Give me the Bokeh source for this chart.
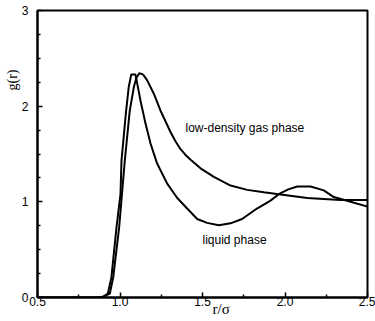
from bokeh.plotting import figure
from bokeh.models import FixedTicker, Label, Range1d, PrintfTickFormatter, Title
from bokeh.embed import file_html
from bokeh.resources import INLINE

# Liquid phase g(r)
liquid_r = [0.50, 0.85, 0.87, 0.90, 0.926, 0.948, 0.979, 1.003, 1.009, 1.037, 1.053, 1.068,
            1.094, 1.124, 1.155, 1.185, 1.225, 1.286, 1.347, 1.407, 1.468, 1.528, 1.599,
            1.67, 1.74, 1.83, 1.91, 1.962, 2.02, 2.074, 2.155, 2.235, 2.296, 2.397, 2.50]
liquid_g = [0.0, 0.0, 0.0, 0.01, 0.04, 0.21, 0.735, 1.08, 1.43, 1.95, 2.2, 2.33,
            2.33, 2.06, 1.815, 1.61, 1.40, 1.19, 1.04, 0.93, 0.82, 0.78, 0.755,
            0.775, 0.82, 0.93, 1.01, 1.08, 1.13, 1.16, 1.16, 1.12, 1.05, 1.00, 0.95]

# Low-density gas phase g(r)
gas_r = [0.50, 0.86, 0.89, 0.938, 0.959, 0.995, 1.029, 1.059, 1.084, 1.10, 1.118, 1.14,
         1.165, 1.205, 1.245, 1.306, 1.337, 1.367, 1.397, 1.428, 1.488, 1.569, 1.67, 1.771,
         1.872, 1.962, 2.135, 2.336, 2.50]
gas_g = [0.0, 0.0, 0.0, 0.04, 0.21, 0.735, 1.43, 1.95, 2.2, 2.30, 2.345, 2.33,
         2.27, 2.13, 1.955, 1.73, 1.63, 1.55, 1.49, 1.44, 1.35, 1.26, 1.17, 1.125,
         1.10, 1.08, 1.04, 1.02, 1.02]

x_ticks = [0.5, 1.0, 1.5, 2.0, 2.5]
x_minor = [0.75, 1.25, 1.75, 2.25]
y_ticks = [0, 1, 2, 3]
y_minor = [0.25, 0.5, 0.75, 1.25, 1.5, 1.75, 2.25, 2.5, 2.75]

p = figure(width=375, height=321, output_backend="svg", toolbar_location=None,
           x_range=Range1d(0.5, 2.5), y_range=Range1d(0, 3),
           min_border_left=37, min_border_right=8, min_border_top=10, min_border_bottom=24)
p.background_fill_color = "white"
p.border_fill_color = "white"
p.xgrid.visible = False
p.ygrid.visible = False
p.outline_line_color = "black"
p.outline_line_width = 2
p.outline_line_alpha = 1

for ax in (p.xaxis[0], p.yaxis[0]):
    ax.axis_line_width = 2
    ax.axis_line_color = "black"
    ax.major_tick_in = 5
    ax.major_tick_out = 0
    ax.minor_tick_in = 3
    ax.minor_tick_out = 0
    ax.major_tick_line_width = 1.5
    ax.minor_tick_line_width = 1.5
    ax.major_label_text_font = "Liberation Sans"
    ax.major_label_text_font_size = "12px"
    ax.major_label_text_color = "black"

p.xaxis[0].ticker = FixedTicker(ticks=x_ticks, minor_ticks=x_minor)
p.yaxis[0].ticker = FixedTicker(ticks=y_ticks, minor_ticks=y_minor)
p.xaxis[0].formatter = PrintfTickFormatter(format="%.1f")
p.yaxis[0].formatter = PrintfTickFormatter(format="%d")
p.xaxis[0].major_label_standoff = -1
p.yaxis[0].major_label_standoff = 9

p.line(liquid_r, liquid_g, line_color="black", line_width=2)
p.line(gas_r, gas_g, line_color="black", line_width=2)

p.add_layout(Label(x=1.397, y=1.77, text="low-density gas phase", text_font="Liberation Sans",
                   text_font_size="12px", text_baseline="middle", text_align="left",
                   text_color="black"))
p.add_layout(Label(x=1.5, y=0.596, text="liquid phase", text_font="Liberation Sans",
                   text_font_size="12px", text_baseline="middle", text_align="left",
                   text_color="black"))

x_title = Title(text="r/σ", align="left", offset=175, vertical_align="top", standoff=-16,
                text_font="Liberation Serif", text_font_size="15px",
                text_font_style="normal", text_color="black")
p.add_layout(x_title, "below")
y_title = Title(text="g(r)", align="right", offset=59, vertical_align="middle", standoff=-4,
                text_font="Liberation Serif", text_font_size="14px",
                text_font_style="normal", text_color="black")
p.add_layout(y_title, "left")

open("out.html", "w").write(file_html(p, INLINE))
